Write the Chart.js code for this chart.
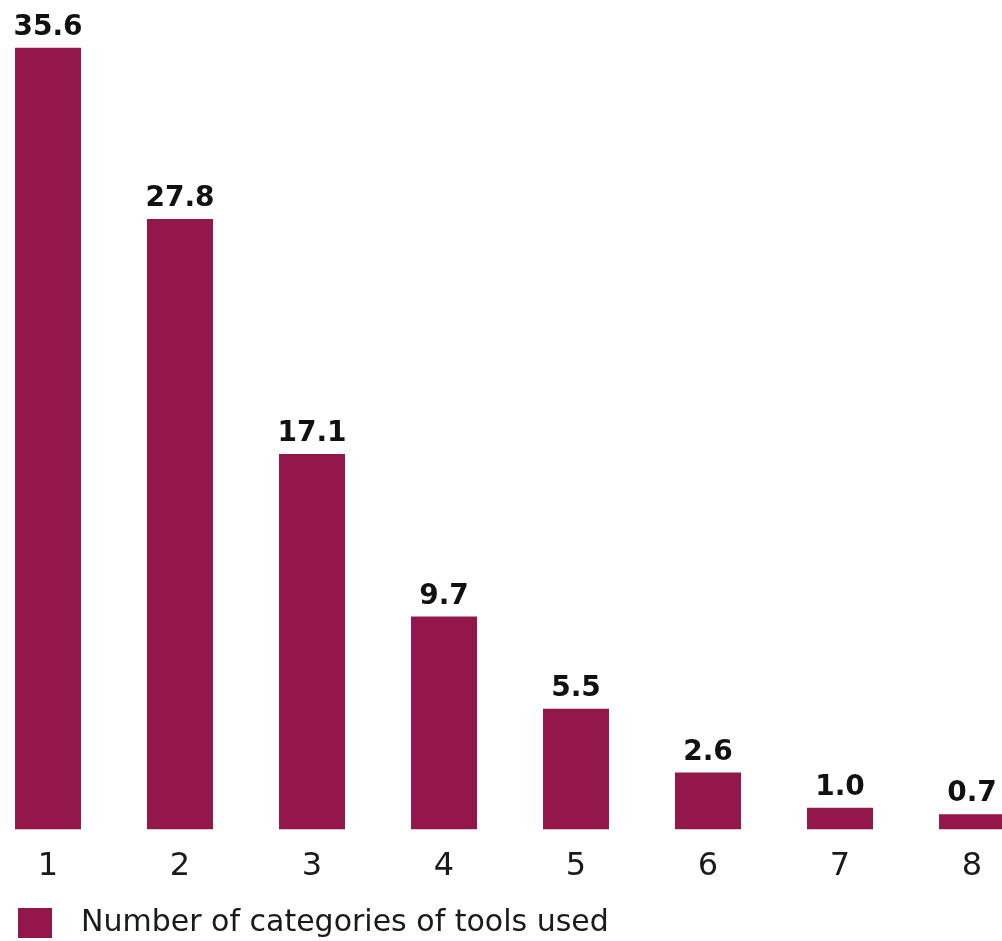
<!DOCTYPE html>
<html>
<head>
<meta charset="utf-8">
<title>Number of categories of tools used</title>
<script src="https://cdn.jsdelivr.net/npm/chart.js@4.4.1/dist/chart.umd.min.js"></script>
<style>
  html, body { margin: 0; padding: 0; background: #fff; overflow: hidden; }
  #wrap { position: relative; width: 1002px; height: 941px; overflow: hidden; }
  /* plot runs a little past both window edges */
  #toolsChart { position: absolute; left: -18px; top: 0; }
</style>
</head>
<body>
<div id="wrap"><canvas id="toolsChart" width="1056" height="948"></canvas></div>
<script>
var categories = ['1', '2', '3', '4', '5', '6', '7', '8'];
var shares = [35.6, 27.8, 17.1, 9.7, 5.5, 2.6, 1.0, 0.7];
var seriesLabel = 'Number of categories of tools used';
var barColor = '#93174b';

// legend marker: square with blank space on the left
var marker = document.createElement('canvas');
marker.width = 62;
marker.height = 30;
var mctx = marker.getContext('2d');
mctx.fillStyle = barColor;
mctx.fillRect(14, 0, 34, 30);

// value above each bar
var valueLabels = {
    id: 'valueLabels',
    afterDatasetsDraw: function(chart) {
        var ctx = chart.ctx;
        var meta = chart.getDatasetMeta(0);
        ctx.save();
        ctx.font = 'bold 28px "DejaVu Sans"';
        ctx.fillStyle = '#111';
        ctx.textAlign = 'center';
        ctx.textBaseline = 'alphabetic';
        meta.data.forEach(function(bar, i) {
            ctx.fillText(shares[i].toFixed(1), bar.x, bar.y - 13);
        });
        ctx.restore();
    }
};

Chart.defaults.font.family = '"DejaVu Sans", sans-serif';
Chart.defaults.color = '#1a1a1a';

var ctx = document.getElementById('toolsChart').getContext('2d');
var toolsChart = new Chart(ctx, {
    type: 'bar',
    data: {
        labels: categories,
        datasets: [{
            label: seriesLabel,
            data: shares,
            backgroundColor: barColor,
            borderWidth: 0,
            barPercentage: 0.5,
            categoryPercentage: 1.0
        }]
    },
    options: {
        responsive: false,
        animation: false,
        layout: {
            padding: { top: 39, left: 0, right: 0, bottom: 0 }
        },
        scales: {
            x: {
                // grid hidden, tickLength only used as gap under the bars
                grid: { display: false, drawTicks: true, tickLength: 18 },
                border: { display: false },
                ticks: {
                    font: { size: 32 },
                    padding: 0,
                    color: '#1a1a1a'
                }
            },
            y: {
                display: false,
                min: 0,
                max: 36
            }
        },
        plugins: {
            legend: {
                position: 'bottom',
                align: 'start',
                labels: {
                    usePointStyle: true,
                    pointStyle: marker,
                    pointStyleWidth: 62,
                    padding: 22,
                    font: { size: 30 },
                    color: '#1a1a1a'
                }
            },
            tooltip: { enabled: false }
        }
    },
    plugins: [valueLabels]
});
</script>
</body>
</html>
